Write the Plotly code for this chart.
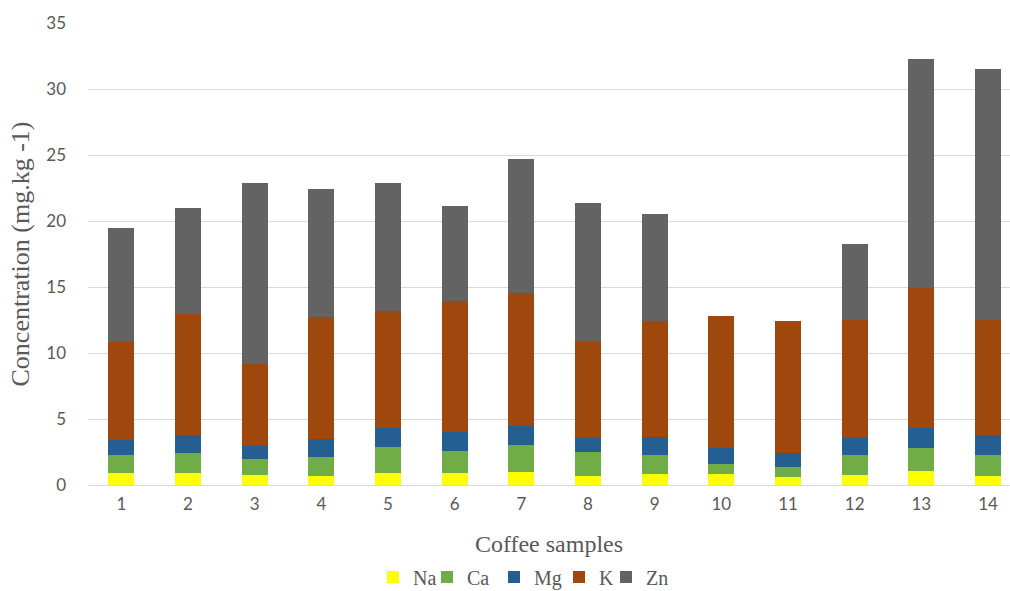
import plotly.graph_objects as go

samples = [str(i) for i in range(1, 15)]
na = [0.93, 0.88, 0.76, 0.71, 0.93, 0.93, 0.96, 0.71, 0.81, 0.81, 0.63, 0.73, 1.09, 0.71]
ca = [1.34, 1.52, 1.21, 1.44, 1.92, 1.67, 2.07, 1.77, 1.46, 0.78, 0.71, 1.54, 1.74, 1.56]
mg = [1.13, 1.40, 0.98, 1.33, 1.50, 1.44, 1.44, 1.11, 1.39, 1.19, 1.11, 1.32, 1.52, 1.54]
k = [7.43, 9.12, 6.25, 9.23, 8.82, 9.88, 10.05, 7.24, 8.80, 10.01, 10.01, 8.92, 10.58, 8.70]
zn = [8.62, 8.08, 13.66, 9.70, 9.69, 7.21, 10.18, 10.50, 8.09, 0.0, 0.0, 5.73, 17.33, 18.99]

names = ["Na", "Ca", "Mg", "K", "Zn"]
values = [na, ca, mg, k, zn]
colors = ["#FFFF00", "#70AD47", "#255E91", "#9E480E", "#636363"]

W, H = 1010, 591
# legend entry positions (pixels, left edge of each entry)
legend_px = [373, 427, 494, 559, 606]
legend_py = 577

serif = "Liberation Serif, Times New Roman, serif"
legend_font = dict(family=serif, size=20, color="#595959")

fig = go.Figure()
layout_legends = {}
for i, (name, vals, color) in enumerate(zip(names, values, colors)):
    lname = "legend" if i == 0 else f"legend{i + 1}"
    fig.add_trace(go.Bar(x=samples, y=vals, name=name, legend=lname,
                         marker=dict(color=color, line=dict(width=0))))
    layout_legends[lname] = dict(
        xref="container", yref="container",
        x=legend_px[i] / W, y=1 - legend_py / H,
        xanchor="left", yanchor="middle",
        orientation="h", font=legend_font,
        bgcolor="rgba(0,0,0,0)", itemwidth=30,
        visible=True,
    )

fig.update_layout(
    showlegend=True,
    barmode="stack",
    bargap=0.61,
    width=W,
    height=H,
    margin=dict(l=88, r=0, t=23, b=106, autoexpand=False),
    plot_bgcolor="white",
    paper_bgcolor="white",
    font=dict(family="Lato, Liberation Sans, sans-serif", color="#595959", size=17),
    xaxis=dict(
        type="category",
        range=[-0.5, 13.33],
        automargin=False,
        showgrid=False,
        showline=False,
        ticks="",
        ticklabelstandoff=7,
        tickfont=dict(size=17, color="#595959"),
        title=dict(text="Coffee samples", font=dict(family=serif, size=24, color="#595959"), standoff=31),
    ),
    yaxis=dict(
        range=[0, 35],
        dtick=5,
        automargin=False,
        showgrid=True,
        gridcolor="#D9D9D9",
        gridwidth=1,
        zeroline=True,
        zerolinecolor="#D9D9D9",
        zerolinewidth=1,
        showline=False,
        ticks="",
        tickfont=dict(size=17, color="#595959"),
        ticklabelstandoff=21,
        title=dict(text="Concentration (mg.kg -1)", font=dict(family=serif, size=26, color="#595959"), standoff=9),
    ),
    **layout_legends,
)

fig.write_html("out.html", post_script="document.body.style.margin='0';",
               config={"displayModeBar": False})
